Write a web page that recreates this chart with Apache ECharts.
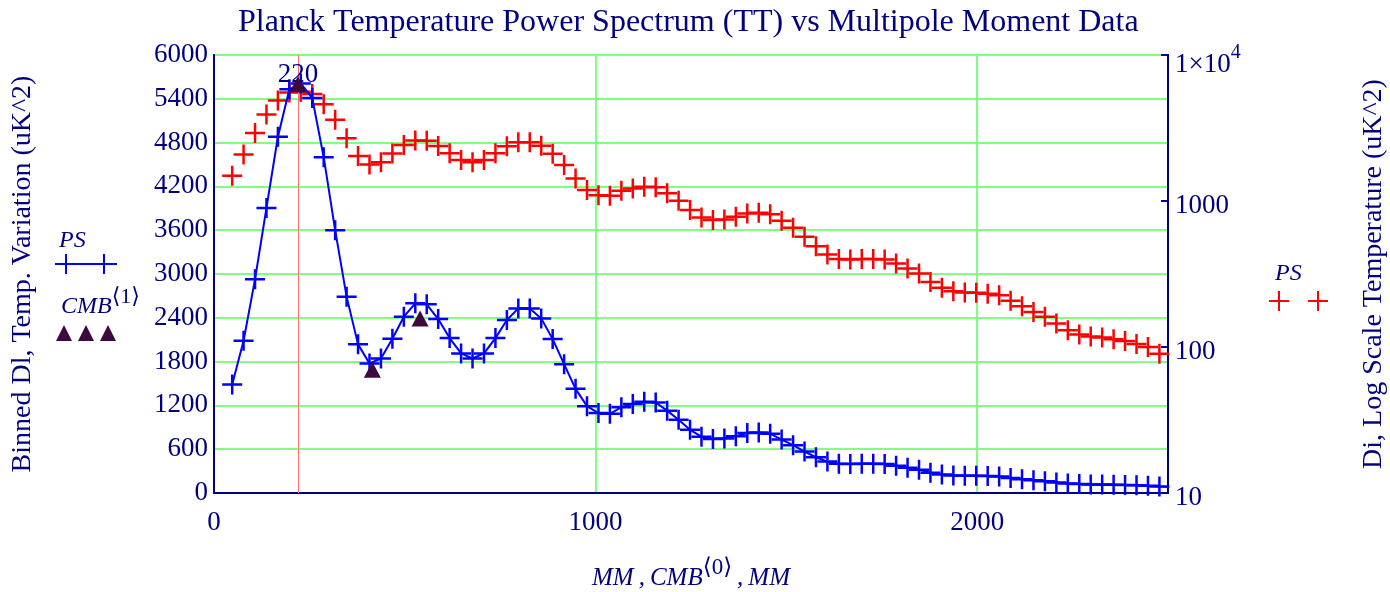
<!DOCTYPE html>
<html><head><meta charset="utf-8">
<script src="https://cdn.jsdelivr.net/npm/echarts@6/dist/echarts.min.js"></script>
<style>html,body{margin:0;padding:0;background:#fff}#c{width:1390px;height:592px}</style>
</head><body><div id="c"></div>
<script>
// Binned multipole moments (MM)
const multipole = [47.7, 77.5, 107.5, 137.5, 167.5, 197.5, 227.5, 257.5, 287.5, 317.5,
  347.5, 377.5, 407.5, 437.5, 467.5, 497.5, 527.5, 557.5, 587.5, 617.5,
  647.5, 677.5, 707.5, 737.5, 767.5, 797.5, 827.5, 857.5, 887.5, 917.5,
  947.5, 977.5, 1007.5, 1037.5, 1067.5, 1097.5, 1127.5, 1157.5, 1187.5, 1217.5,
  1247.5, 1277.5, 1307.5, 1337.5, 1367.5, 1397.5, 1427.5, 1457.5, 1487.5, 1517.5,
  1547.5, 1577.5, 1607.5, 1637.5, 1667.5, 1697.5, 1727.5, 1757.5, 1787.5, 1817.5,
  1847.5, 1877.5, 1907.5, 1937.5, 1967.5, 1997.5, 2027.5, 2057.5, 2087.5, 2117.5,
  2147.5, 2177.5, 2207.5, 2237.5, 2267.5, 2297.5, 2327.5, 2357.5, 2387.5, 2417.5,
  2447.5, 2477.5, 2507.5];
// Binned Dl power spectrum (PS), uK^2
const powerSpectrum = [1487, 2085, 2927, 3905, 4880, 5530, 5610, 5410, 4600, 3600,
  2690, 2036, 1775, 1843, 2113, 2415, 2598, 2584, 2383, 2122,
  1912, 1843, 1912, 2122, 2369, 2529, 2529, 2392, 2108, 1765,
  1427, 1190, 1095, 1085, 1175, 1220, 1250, 1240, 1128, 1003,
  866, 772, 740, 748, 779, 822, 830, 813, 732, 655,
  568, 490, 430, 400, 397, 400, 400, 398, 373, 345,
  319, 279, 255, 241, 236, 235, 232, 226, 207, 190,
  174, 161, 145, 130, 122, 118, 116, 113, 110, 105,
  100, 90, 83];
// CMB peak / trough points: column 0 (multipole) and column 1 (Dl)
const cmbMultipole = [220, 415, 540];
const cmbDl = [5600, 1690, 2390];
// first acoustic peak marker
const peakMultipole = 220;

const NAVY = '#000080';
const SERIF = '"Liberation Serif","DejaVu Serif",serif';
const GREEN = '#80ff80';
const CROSS = 'path://M8.75,0H11.25V8.75H20V11.25H11.25V20H8.75V11.25H0V8.75H8.75Z';

const psData = multipole.map((m, i) => [m, powerSpectrum[i]]);
const cmbData = cmbMultipole.map((m, i) => [m, cmbDl[i]]);

const chart = echarts.init(document.getElementById('c'), null, {renderer: 'canvas'});
chart.setOption({
  animation: false,
  backgroundColor: '#fff',
  title: {
    text: 'Planck Temperature Power Spectrum (TT) vs Multipole Moment Data',
    left: 233, top: 2,
    textStyle: {fontFamily: SERIF, fontSize: 32, fontWeight: 'normal', color: NAVY}
  },
  grid: {left: 214, right: 222, top: 55, bottom: 99, show: true, borderColor: NAVY, borderWidth: 2,
    containLabel: false, outerBoundsMode: 'none'},
  xAxis: {
    type: 'value', min: 0, max: 2500, interval: 1000,
    axisLine: {show: true, onZero: false, lineStyle: {color: NAVY, width: 2}},
    axisTick: {show: false},
    axisLabel: {color: NAVY, fontFamily: SERIF, fontSize: 27, margin: 16, showMaxLabel: false,
      formatter: v => String(v)},
    splitLine: {show: true, lineStyle: {color: GREEN, width: 2}},
    name: '{i|MM\u2009,\u2009CMB}{s|⟨0⟩}{i|\u2009,\u2009MM}',
    nameLocation: 'middle', nameGap: 63,
    nameTextStyle: {
      color: NAVY, fontFamily: SERIF,
      rich: {
        i: {fontStyle: 'italic', fontSize: 25, color: NAVY, fontFamily: SERIF},
        s: {fontSize: 23, color: NAVY, fontFamily: SERIF, padding: [0, 0, 22, 0]}
      }
    }
  },
  yAxis: [{
    type: 'value', min: 0, max: 6000, interval: 600, position: 'left',
    axisLine: {show: true, lineStyle: {color: NAVY, width: 2}},
    axisTick: {show: false},
    axisLabel: {color: NAVY, fontFamily: SERIF, fontSize: 27, margin: 6, formatter: v => String(v)},
    splitLine: {show: true, lineStyle: {color: GREEN, width: 2}},
    name: 'Binned Dl, Temp. Variation (uK^2)',
    nameLocation: 'middle', nameGap: 177,
    nameTextStyle: {color: NAVY, fontFamily: SERIF, fontSize: 28}
  }, {
    type: 'log', logBase: 10, min: 10, max: 10000, position: 'right',
    axisLine: {show: true, lineStyle: {color: NAVY, width: 2}},
    axisTick: {show: true, inside: true, length: 7, lineStyle: {color: NAVY, width: 2}},
    axisLabel: {
      color: NAVY, fontFamily: SERIF, fontSize: 27, margin: 7, padding: [9, 0, 0, 0],
      formatter: v => Math.round(v) === 10000 ? '{n|1×10}{s|4}' : String(Math.round(v)),
      rich: {
        n: {fontSize: 27, fontFamily: SERIF, color: NAVY, padding: [10, 0, 0, 0]},
        s: {fontSize: 20, fontFamily: SERIF, color: NAVY, padding: [0, 0, 14, 0]}
      }
    },
    splitLine: {show: false},
    name: 'Di, Log Scale Temperature (uK^2)',
    nameLocation: 'middle', nameGap: 192,
    nameTextStyle: {color: NAVY, fontFamily: SERIF, fontSize: 28}
  }],
  series: [{
    name: 'PS (log)', type: 'scatter', yAxisIndex: 1, data: psData,
    symbol: CROSS, symbolSize: 20,
    itemStyle: {color: '#ff0000', opacity: 1}, z: 3, clip: true
  }, {
    name: 'PS', type: 'line', yAxisIndex: 0, data: psData,
    symbol: CROSS, symbolSize: 20, showSymbol: true, showAllSymbol: true,
    itemStyle: {color: '#0000ff', opacity: 1},
    lineStyle: {color: '#0000ff', width: 2}, z: 4, clip: true,
    markLine: {
      silent: true, symbol: 'none', animation: false,
      lineStyle: {color: '#ff7070', width: 1, type: 'solid'},
      label: {show: true, position: 'end', distance: -33, formatter: String(peakMultipole),
        color: NAVY, fontFamily: SERIF, fontSize: 27},
      data: [{xAxis: peakMultipole}]
    }
  }, {
    name: 'CMB', type: 'scatter', yAxisIndex: 0, data: cmbData,
    symbol: 'triangle', symbolSize: [17, 16],
    itemStyle: {color: '#3c0a3c', opacity: 1}, z: 5
  }],
  graphic: [
    {type: 'text', left: 59, top: 229, z: 10, style: {text: 'PS', font: 'italic 24px ' + SERIF, fill: NAVY}},
    {type: 'line', shape: {x1: 55, y1: 264, x2: 117, y2: 264}, style: {stroke: '#0000ff', lineWidth: 2}, z: 10},
    {type: 'line', shape: {x1: 66, y1: 254, x2: 66, y2: 274}, style: {stroke: '#0000ff', lineWidth: 2}, z: 10},
    {type: 'line', shape: {x1: 104, y1: 254, x2: 104, y2: 274}, style: {stroke: '#0000ff', lineWidth: 2}, z: 10},
    {type: 'text', left: 61, top: 286, z: 10, style: {
      text: '{i|CMB}{s|⟨1⟩}',
      rich: {i: {font: 'italic 24px ' + SERIF, fill: NAVY}, s: {font: '22px ' + SERIF, fill: NAVY, padding: [0, 0, 20, 0]}}
    }},
    {type: 'polygon', shape: {points: [[56, 341], [64, 325], [72, 341]]}, style: {fill: '#3c0a3c'}, z: 10},
    {type: 'polygon', shape: {points: [[78, 341], [86, 325], [94, 341]]}, style: {fill: '#3c0a3c'}, z: 10},
    {type: 'polygon', shape: {points: [[100, 341], [108, 325], [116, 341]]}, style: {fill: '#3c0a3c'}, z: 10},
    {type: 'text', left: 1275, top: 262, z: 10, style: {text: 'PS', font: 'italic 24px ' + SERIF, fill: NAVY}},
    {type: 'line', shape: {x1: 1269, y1: 301, x2: 1289, y2: 301}, style: {stroke: '#ff0000', lineWidth: 2}, z: 10},
    {type: 'line', shape: {x1: 1279, y1: 291, x2: 1279, y2: 311}, style: {stroke: '#ff0000', lineWidth: 2}, z: 10},
    {type: 'line', shape: {x1: 1308, y1: 301, x2: 1328, y2: 301}, style: {stroke: '#ff0000', lineWidth: 2}, z: 10},
    {type: 'line', shape: {x1: 1318, y1: 291, x2: 1318, y2: 311}, style: {stroke: '#ff0000', lineWidth: 2}, z: 10}
  ]
});
</script>
</body></html>
